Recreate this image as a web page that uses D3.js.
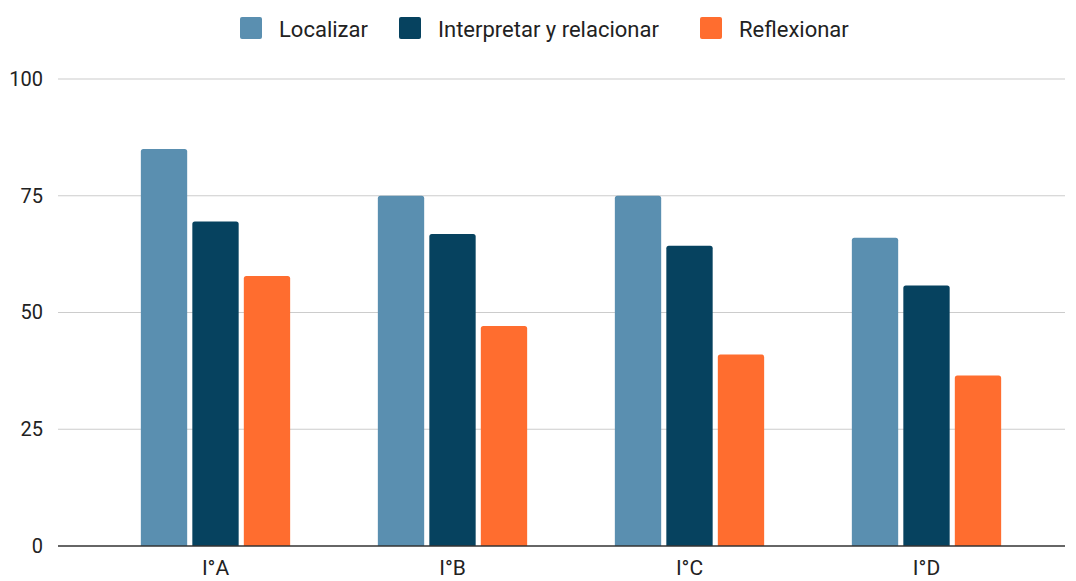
<!DOCTYPE html>
<html>
<head>
<meta charset="utf-8">
<script src="https://cdn.jsdelivr.net/npm/d3@7"></script>
<style>
  body { margin: 0; background: #fff; }
  text { font-family: Roboto, "Liberation Sans", Arial, sans-serif; fill: #222; }
</style>
</head>
<body>
<div class="chart"></div>
<script>
// data
const categories = ["I°A", "I°B", "I°C", "I°D"];
const seriesNames = ["Localizar", "Interpretar y relacionar", "Reflexionar"];
const localizar = [85, 75, 75, 66];
const interpretar = [69.5, 66.8, 64.3, 55.8];
const reflexionar = [57.8, 47.1, 41, 36.5];
const yTicks = [0, 25, 50, 75, 100];
const colors = ["#5a8fb0", "#06425f", "#ff6d2f"];

const W = 1076, H = 581;
const margin = {top: 79, right: 11, bottom: 35, left: 58};
const w = W - margin.left - margin.right;
const h = H - margin.top - margin.bottom;

const svg = d3.select(".chart")
    .append("svg")
        .attr("width", W)
        .attr("height", H)
    .append("g")
        .attr("transform", "translate(" + margin.left + "," + margin.top + ")");

const series = [localizar, interpretar, reflexionar];
const rows = categories.map((c, i) => ({cat: c, vals: series.map(s => s[i])}));

// scales
const x0 = d3.scaleBand()
    .domain(categories)
    .range([39, 987])
    .paddingInner(0.37)
    .paddingOuter(0.185);
const x1 = d3.scaleBand()
    .domain(d3.range(series.length))
    .range([0, x0.bandwidth()])
    .paddingInner(0.1);
const y = d3.scaleLinear().domain([0, 100]).range([h, 0]);

// gridlines
svg.append("g")
    .selectAll("line")
    .data(yTicks.filter(d => d > 0))
    .enter()
    .append("line")
        .attr("x1", 0)
        .attr("x2", w)
        .attr("y1", d => y(d))
        .attr("y2", d => y(d))
        .attr("stroke", "#cccccc")
        .attr("stroke-width", 1.2);

// y axis labels
const yAxis = svg.append("g")
    .call(d3.axisLeft(y).tickValues(yTicks).tickSize(0).tickPadding(15));
yAxis.select(".domain").remove();
yAxis.selectAll("text")
    .style("font-size", "20px")
    .style("fill", "#222");

// bars with rounded top corners
const r = 2.5;
const barPath = (bx, by, bw, bh) =>
    `M${bx},${by + bh}V${by + r}Q${bx},${by} ${bx + r},${by}H${bx + bw - r}Q${bx + bw},${by} ${bx + bw},${by + r}V${by + bh}Z`;

const groups = svg.selectAll(".grp")
    .data(rows)
    .enter()
    .append("g")
        .attr("class", "grp")
        .attr("transform", d => "translate(" + x0(d.cat) + ",0)");

groups.selectAll("path")
    .data(d => d.vals.map((v, k) => ({v, k})))
    .enter()
    .append("path")
        .attr("d", d => barPath(x1(d.k), y(d.v), x1.bandwidth(), h - y(d.v)))
        .attr("fill", d => colors[d.k]);

// baseline
svg.append("line")
    .attr("x1", 0)
    .attr("x2", w)
    .attr("y1", h)
    .attr("y2", h)
    .attr("stroke", "#333")
    .attr("stroke-width", 1.5);

// x labels
const xAxis = svg.append("g")
    .attr("transform", "translate(0," + h + ")")
    .call(d3.axisBottom(x0).tickSize(0).tickPadding(14));
xAxis.select(".domain").remove();
xAxis.selectAll("text")
    .style("font-size", "21px")
    .style("fill", "#222");

// legend
const legendX = [240, 399, 700];
const legend = d3.select("svg").append("g");
seriesNames.forEach((name, i) => {
    legend.append("rect")
        .attr("x", legendX[i])
        .attr("y", 17)
        .attr("width", 22)
        .attr("height", 22)
        .attr("rx", 2)
        .attr("fill", colors[i]);
    legend.append("text")
        .attr("x", legendX[i] + 39)
        .attr("y", 36.5)
        .style("font-size", "22px")
        .text(name);
});
</script>
</body>
</html>
